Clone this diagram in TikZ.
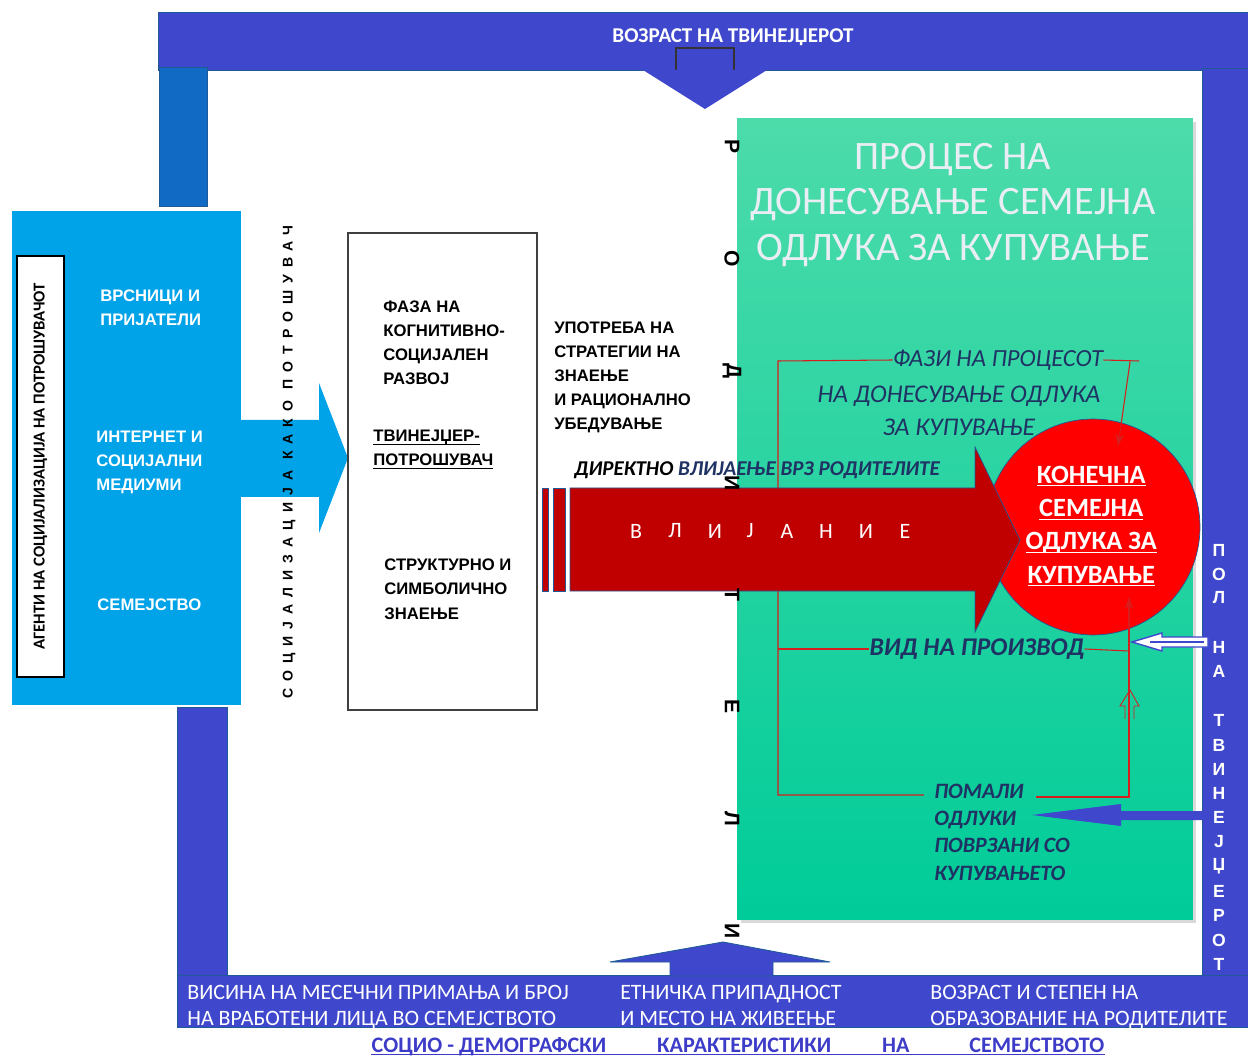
\documentclass[tikz,border=0pt]{standalone}
\usepackage{fontspec}
\usetikzlibrary{shapes.geometric,arrows.meta,shadows}
\setmainfont{Carlito}
\newfontfamily\vfont{Liberation Sans}
\newcommand\ulword[1]{\underline{\smash{#1}}}
\definecolor{bandblue}{RGB}{63,72,204}
\definecolor{barblue}{RGB}{17,107,196}
\definecolor{skyblue}{RGB}{0,162,232}
\definecolor{edgeblue}{RGB}{31,90,150}
\definecolor{infred}{RGB}{192,0,0}
\definecolor{greentop}{RGB}{77,219,170}
\definecolor{greenbot}{RGB}{0,204,153}
\definecolor{navytext}{RGB}{31,50,100}
\definecolor{titlegray}{RGB}{232,238,244}
\definecolor{linkblue}{RGB}{60,60,200}
\definecolor{thinred}{RGB}{215,30,30}

\begin{document}
\begin{tikzpicture}[x=0.02cm,y=-0.02cm,
		band/.style={fill=bandblue,draw=edgeblue,line width=0.5pt},
		lbl/.style={inner sep=0pt,anchor=base west,align=left},
		whitelbl/.style={lbl,text=white,font=\vfont\bfseries\fontsize{9.5}{13.7}\selectfont},
		blacklbl/.style={lbl,text=black,font=\vfont\bfseries\fontsize{9.5}{13.7}\selectfont},
		navylbl/.style={inner sep=0pt,text=navytext},
		stripe/.style={lbl,text=white,font=\fontsize{12.5}{14.8}\selectfont},
		procline/.style={draw=thinred,line width=0.6pt},
	]
	\useasboundingbox (0,0) rectangle (1248,1057);
	%
	% outer frame: age on top, sex on the right, family data below
	\path[band] (158,12) rectangle (1248,70);
	\path[band] (1202,68) rectangle (1248,975);
	\path[band] (177,707) rectangle (227,976);
	\path[band] (177,975) rectangle (1248,1027);
	\path[fill=barblue,draw=edgeblue] (159,67) rectangle (207,206);
	\node[text=white,font=\bfseries\fontsize{12}{14}\selectfont] (agetop) at (733,37) {ВОЗРАСТ НА ТВИНЕЈЏЕРОТ};
	\path[fill=bandblue,draw=black!80,line width=0.6pt] (676,48) rectangle (734,72);
	\fill[bandblue] (643,70) -- (767,70) -- (705,109) -- cycle;
	\path[band] (610,962) -- (723,942) -- (830,962) -- (773,962) -- (773,976) -- (670,976) -- (670,962) -- cycle;
	%
	% agents of socialization
	\fill[skyblue] (12,211) rectangle (241,705);
	\fill[skyblue] (240,420) -- (319,420) -- (319,383) -- (348,458) -- (319,533) -- (319,497) -- (240,497) -- cycle;
	\node[rotate=90,draw=black,line width=1pt,fill=white,minimum width=8.42cm,minimum height=0.94cm,inner sep=0pt,
		font=\bfseries\fontsize{9.5}{11}\selectfont] (agents) at (40.5,466.5) {АГЕНТИ НА СОЦИЈАЛИЗАЦИЈА НА ПОТРОШУВАЧОТ};
	% multi-line labels sit on the baseline of their last line
	\node[whitelbl] (peers) at (100,326) {ВРСНИЦИ И\\ПРИЈАТЕЛИ};
	\node[whitelbl] (media) at (96,491) {ИНТЕРНЕТ И\\СОЦИЈАЛНИ\\МЕДИУМИ};
	\node[whitelbl] (family) at (97,610) {СЕМЕЈСТВО};
	\node[rotate=90,inner sep=0pt,font=\vfont\bfseries\fontsize{8}{9}\selectfont\addfontfeature{LetterSpace=50}] (social) at (289,462) {СОЦИЈАЛИЗАЦИЈА КАКО ПОТРОШУВАЧ};
	%
	% the teenager as consumer
	\node[draw=black!75,line width=0.8pt,fill=white,minimum width=3.78cm,minimum height=9.54cm,inner sep=0pt] (teenbox) at (442.5,471.5) {};
	\node[blacklbl] (phase) at (383,385) {ФАЗА НА\\КОГНИТИВНО-\\СОЦИЈАЛЕН\\РАЗВОЈ};
	\node[blacklbl] (teen) at (373,466) {\ulword{ТВИНЕЈЏЕР-}\\\ulword{ПОТРОШУВАЧ}};
	\node[blacklbl] (struct) at (384,619) {СТРУКТУРНО И\\СИМБОЛИЧНО\\ЗНАЕЊЕ};
	\node[blacklbl] (strategy) at (554,430) {УПОТРЕБА НА\\СТРАТЕГИИ НА\\ЗНАЕЊЕ\\И РАЦИОНАЛНО\\УБЕДУВАЊЕ};
	%
	% decision process
	\node[top color=greentop,bottom color=greenbot,minimum width=9.12cm,minimum height=16.04cm,inner sep=0pt,
		drop shadow={shadow xshift=2pt,shadow yshift=-2pt,opacity=0.3}] (process) at (965,519) {};
	\node[font=\fontsize{23}{26}\selectfont,text=titlegray,align=center] (title) at (953,205) {ПРОЦЕС НА\\ДОНЕСУВАЊЕ СЕМЕЈНА\\ОДЛУКА ЗА КУПУВАЊЕ};
	\node[ellipse,fill=red,draw=edgeblue,line width=0.4pt,minimum width=4.28cm,minimum height=4.32cm,inner sep=0pt] (decision) at (1093,527) {};
	\node[text=white,align=center,font=\bfseries\fontsize{15}{19}\selectfont] (decisiontext) at ([xshift=-1pt,yshift=-4.5pt]decision.center)
		{\ulword{КОНЕЧНА}\\\ulword{СЕМЕЈНА}\\\ulword{ОДЛУКА ЗА}\\\ulword{КУПУВАЊЕ}};
	\node[navylbl,font=\itshape\fontsize{14}{18.8}\selectfont] (phasesA) at (998,360) {ФАЗИ НА ПРОЦЕСОТ};
	\node[navylbl,align=center,font=\itshape\fontsize{14.5}{18.8}\selectfont] (phasesB) at (959,411) {НА ДОНЕСУВАЊЕ ОДЛУКА\\ЗА КУПУВАЊЕ};
	\node[navylbl,font=\bfseries\itshape\fontsize{14.5}{17}\selectfont] (view) at (977,649) {ВИД НА ПРОИЗВОД};
	\node[navylbl,lbl,font=\bfseries\itshape\fontsize{12.5}{15.4}\selectfont] (minor) at (934,880) {ПОМАЛИ\\ОДЛУКИ\\ПОВРЗАНИ СО\\КУПУВАЊЕТО};
	\coordinate (loopNW) at (778,361);
	\coordinate (loopSW) at (778,795);
	\coordinate (minorW) at (924,795);
	\coordinate (minorE) at (1036,797);
	\coordinate (loopSE) at (1129,797);
	\coordinate (loopNE) at (1139,361);
	\coordinate (bend) at (1130,362);
	\coordinate (viewW) at (778,649);
	\coordinate (viewE) at (1129,651);
	\coordinate (decTop) at (1118,446);
	\coordinate (decBot) at (1129,597);
	\draw[procline] (phasesA.west) -- (loopNW) -- (loopSW) -- (minorW);
	\draw[procline] (minorE) -- (loopSE) -- (viewE);
	\draw[procline] (viewW) -- (view.west);
	\draw[procline] (view.east) -- (viewE);
	\draw[procline] (phasesA.east) -- (loopNE);
	\draw[procline,-{Stealth[length=7pt,width=5pt]}] (bend) -- (decTop);
	\draw[procline,-{Stealth[length=7pt,width=5pt]}] (viewE) -- (decBot);
	\draw[procline,line width=0.5pt] (1125,719) -- (1125,706) -- (1120,706) -- (1130,690) -- (1139,706) -- (1134,706) -- (1134,719);
	\draw[draw=bandblue,fill=white,line width=0.8pt] (1208,637) -- (1162,637) -- (1162,633) -- (1132,642) -- (1162,651) -- (1162,647) -- (1208,647) -- cycle;
	\draw[bandblue,line width=1.2pt] (1204,642) -- (1150,642);
	\fill[bandblue] (1203,811) -- (1121,811) -- (1121,804) -- (1032,815) -- (1121,826) -- (1121,820) -- (1203,820) -- cycle;
	%
	% influence on the parents
	\path[fill=infred,draw=edgeblue,line width=0.4pt] (542,488) rectangle (548,591);
	\path[fill=infred,draw=edgeblue,line width=0.4pt] (553,488) rectangle (565,591);
	\path[fill=infred,draw=edgeblue,line width=0.4pt] (570,488) -- (975,488) -- (975,447) -- (1020,540) -- (975,632) -- (975,591) -- (570,591) -- cycle;
	\foreach \ch/\xx in {В/636,Л/675,И/715,Ј/750,А/787,Н/826,И/866,Е/905}
		\node[text=white,font=\fontsize{12.5}{14}\selectfont] at (\xx,531) {\ch};
	\node[lbl,text=navytext,font=\bfseries\itshape\fontsize{12}{14}\selectfont] (direct) at (574,476) {\textcolor{black}{ДИРЕКТНО} ВЛИЈАЕЊЕ ВРЗ РОДИТЕЛИТЕ};
	\foreach \ch [count=\i] in {Р,О,Д,И,Т,Е,Л,И}
		\node[rotate=-90,font=\vfont\bfseries\fontsize{12}{14}\selectfont] (parent\i) at (732,{35+112*\i}) {\ch};
	%
	% sex and age of the teenager, right bar
	\foreach \ch/\yy in {П/550,О/574,Л/598,Н/647,А/671,Т/720,В/745,И/769,Н/793,Е/817,Ј/842,Џ/866,Е/891,Р/915,О/940,Т/964}
		\node[text=white,font=\vfont\bfseries\fontsize{10}{12}\selectfont] at (1219,\yy) {\ch};
	%
	% socio-demographic data
	\node[stripe] (income) at (187,1025) {ВИСИНА НА МЕСЕЧНИ ПРИМАЊА И БРОЈ\\НА ВРАБОТЕНИ ЛИЦА ВО СЕМЕЈСТВОТО};
	\node[stripe] (ethnic) at (620,1025) {ЕТНИЧКА ПРИПАДНОСТ\\И МЕСТО НА ЖИВЕЕЊЕ};
	\node[stripe] (parentage) at (930,1025) {ВОЗРАСТ И СТЕПЕН НА\\ОБРАЗОВАНИЕ НА РОДИТЕЛИТЕ};
	\node[inner sep=0pt,anchor=base,text=linkblue,font=\bfseries\fontsize{12.6}{14}\selectfont] (caption) at (738,1052)
		{СОЦИО - ДЕМОГРАФСКИ\hspace{29pt}КАРАКТЕРИСТИКИ\hspace{29pt}НА\hspace{34pt}СЕМЕЈСТВОТО};
	\draw[linkblue,line width=0.7pt] ([yshift=-1.5pt]caption.base west) -- ([yshift=-1.5pt]caption.base east);
\end{tikzpicture}
\end{document}
